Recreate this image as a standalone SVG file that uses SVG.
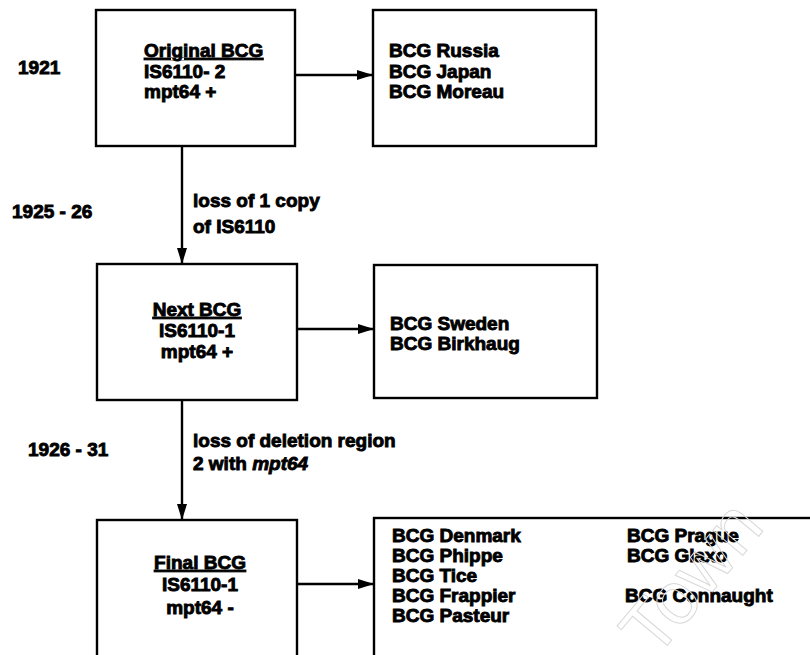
<svg xmlns="http://www.w3.org/2000/svg" width="810" height="655" viewBox="0 0 810 655">
<defs>
<marker id="ah" markerWidth="16" markerHeight="10" refX="16" refY="5" orient="auto" markerUnits="userSpaceOnUse">
<path d="M0,0 L16,5 L0,10 z" fill="#000"/>
</marker>
<style>
.box{fill:#fff;stroke:#000;stroke-width:2.4}
.t{font-family:"Liberation Sans",Arial,sans-serif;font-weight:bold;font-size:19px;fill:#000;stroke:#000;stroke-width:0.9}
.c{text-anchor:middle}
.u{text-decoration:underline}
.ln{fill:none;stroke:#000;stroke-width:2.4}
.thin{fill:none;stroke:#000;stroke-width:1.8}
.wm{font-family:"Liberation Sans",Arial,sans-serif;font-size:74px;fill:none;stroke:#d8d8d8;stroke-width:1}
</style>
</defs>
<rect width="810" height="655" fill="#fff"/>

<g id="years">
<text class="t" x="18" y="74">1921</text>
<text class="t" x="12" y="218">1925 - 26</text>
<text class="t" x="28" y="456">1926 - 31</text>
</g>

<g id="connectors">
<line class="ln" x1="295" y1="75" x2="373" y2="75" marker-end="url(#ah)"/>
<line class="ln" x1="182" y1="146" x2="182" y2="264" marker-end="url(#ah)"/>
<line class="ln" x1="297" y1="329" x2="374" y2="329" marker-end="url(#ah)"/>
<line class="ln" x1="182" y1="400" x2="182" y2="520" marker-end="url(#ah)"/>
<line class="ln" x1="297" y1="584" x2="374" y2="584" marker-end="url(#ah)"/>
<line class="thin" x1="536" y1="535" x2="620" y2="535" marker-end="url(#ah)"/>
<line class="thin" x1="536" y1="535" x2="612" y2="557" marker-end="url(#ah)"/>
<line class="thin" x1="548" y1="595" x2="620" y2="595" marker-end="url(#ah)"/>
<text class="t" x="193" y="207">loss of 1 copy</text>
<text class="t" x="193" y="233">of IS6110</text>
<text class="t" x="193" y="447">loss of deletion region</text>
<text class="t" x="193" y="470">2 with <tspan font-style="italic">mpt64</tspan></text>
</g>

<g id="original">
<rect class="box" x="96" y="10" width="199" height="136"/>
<text class="t u" x="144" y="57">Original BCG</text>
<text class="t" x="144" y="78">IS6110- 2</text>
<text class="t" x="144" y="98">mpt64 +</text>
</g>

<g id="group1">
<rect class="box" x="373" y="10" width="223" height="136"/>
<text class="t" x="389" y="57">BCG Russia</text>
<text class="t" x="389" y="78">BCG Japan</text>
<text class="t" x="389" y="98">BCG Moreau</text>
</g>

<g id="next">
<rect class="box" x="97" y="264" width="200" height="136"/>
<text class="t c u" x="197" y="316">Next BCG</text>
<text class="t c" x="197" y="337">IS6110-1</text>
<text class="t c" x="197" y="358">mpt64 +</text>
</g>

<g id="group2">
<rect class="box" x="374" y="265" width="223" height="133"/>
<text class="t" x="390" y="330">BCG Sweden</text>
<text class="t" x="390" y="350">BCG Birkhaug</text>
</g>

<g id="final">
<rect class="box" x="97" y="520" width="200" height="150"/>
<text class="t c u" x="200" y="569">Final BCG</text>
<text class="t c" x="200" y="591">IS6110-1</text>
<text class="t c" x="200" y="614">mpt64 -</text>
</g>

<g id="group3">
<rect class="box" x="374" y="518" width="450" height="150"/>
<text class="t" x="392" y="542">BCG Denmark</text>
<text class="t" x="392" y="562">BCG Phippe</text>
<text class="t" x="392" y="582">BCG Tice</text>
<text class="t" x="392" y="602">BCG Frappier</text>
<text class="t" x="392" y="622">BCG Pasteur</text>
<text class="t" x="627" y="542">BCG Prague</text>
<text class="t" x="627" y="562">BCG Glaxo</text>
<text class="t" x="625" y="602">BCG Connaught</text>
</g>

<text class="wm" transform="translate(655,660) rotate(-50)">Town</text>
</svg>
